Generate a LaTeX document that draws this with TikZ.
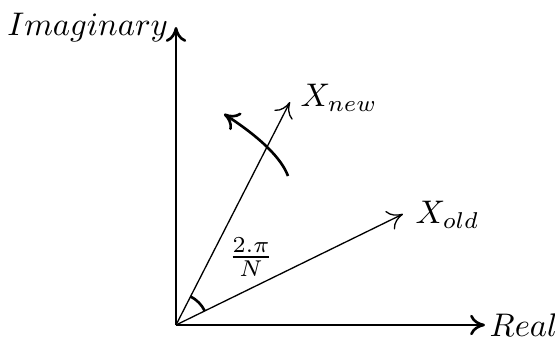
\documentclass[tikz,border=0pt]{standalone}
\usepackage{tikz}
\usetikzlibrary{arrows.meta, positioning, calc}
\tikzset{
  >={To[length=1.6mm, width=2.2mm]},
  axis/.style={->, thick, draw=black},
  vec/.style={->, thin, draw=black},
  rot/.style={->, thick, draw=black},
  lbl/.style={font=\normalsize, inner sep=1pt},
}
\begin{document}
\begin{tikzpicture}[scale=0.43]
      \useasboundingbox (-4.4,-0.45) rectangle (9.475,8.125);
      % axes
      \coordinate (O) at (0,0);
      \coordinate (re) at (7.725,0);
      \coordinate (im) at (0,7.45);
      \draw[axis] (O) -- (re);
      \draw[axis] (O) -- (im);
      \node[lbl, anchor=west] (relbl) at ($(re)+(0.02,0)$) {$Real$};
      \node[lbl, anchor=east] (imlbl) at ($(im)+(-0.1,-0.02)$) {$Imaginary$};
      % vectors
      \coordinate (xold) at (5.675,2.775);
      \coordinate (xnew) at (2.85,5.575);
      \draw[vec] (O) -- (xold);
      \draw[vec] (O) -- (xnew);
      \node[lbl, anchor=west] (oldlbl) at ($(xold)+(0.22,-0.03)$) {$X_{old}$};
      \node[lbl, anchor=west] (newlbl) at ($(xnew)+(0.17,0.1)$) {$X_{new}$};
      % angle between them
      \draw[thick] (26:0.8) arc[start angle=26, end angle=63, radius=0.8];
      \node[lbl] (ang) at (1.875,1.7) {$\frac{2.\pi}{N}$};
      % rotation
      \coordinate (rs) at (2.8,3.725);
      \coordinate (re2) at (1.2,5.275);
      \draw[rot] (rs) .. controls (2.633,4.175) and (2.1,4.692) .. (re2);
\end{tikzpicture}
\end{document}
